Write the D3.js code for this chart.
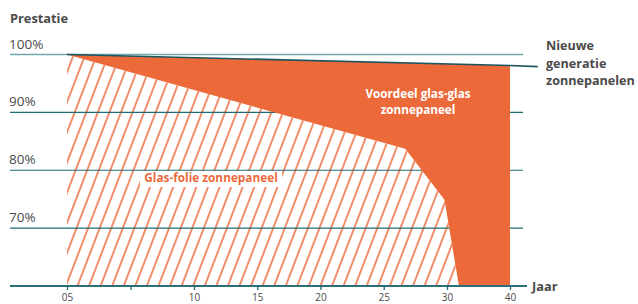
<!DOCTYPE html>
<html>
<head>
<meta charset="utf-8">
<script src="https://cdn.jsdelivr.net/npm/d3@7"></script>
<style>
  body { margin: 0; background: #fff; }
  svg { display: block; font-family: "Open Sans", Lato, sans-serif; }
</style>
</head>
<body>
<div id="chart"></div>
<script>
// data
const tickYears = [5, 7.5, 10, 15, 20, 25, 30, 40];
const tickLabels = ["05", "", "10", "15", "20", "25", "30", "40"];
const gridValues = [70, 80, 90];
const yLabels = ["70%", "80%", "90%", "100%"];
const yLabelValues = [70, 80, 90, 100];

// glas-folie zonnepaneel (prestatie %)
const folieYears = [5, 26.7, 29.8, 31.9];
const folieValues = [100, 83.7, 74.9, 60];

// nieuwe generatie zonnepanelen
const newYears = [5, 40, 44.4];
const newValues = [100, 98.1, 97.9];

const W = 638, H = 304;
const orange = "#ec6a3a", teal = "#1f6c76", text = "#4a4a4a";

const svg = d3.select("#chart").append("svg")
  .attr("width", W).attr("height", H);

// the axis is spaced per tick, not per year
const x = d3.scaleLinear().domain([5, 10, 30, 40]).range([67, 194, 447, 510]);
const y = d3.scaleLinear().domain([60, 100]).range([286, 54.5]);

// hatch pattern
const defs = svg.append("defs");
const pat = defs.append("pattern")
  .attr("id", "hatch")
  .attr("patternUnits", "userSpaceOnUse")
  .attr("width", 10.8).attr("height", 10.8)
  .attr("patternTransform", "rotate(21)");
pat.append("line")
  .attr("x1", 2).attr("y1", 0).attr("x2", 2).attr("y2", 10.8)
  .attr("stroke", orange).attr("stroke-width", 1.5);

const line = d3.line().x(d => x(d[0])).y(d => y(d[1]));

const foliePts = folieYears.map((yr, i) => [yr, folieValues[i]]);
const newPts = newYears.map((yr, i) => [yr, newValues[i]]);

// hatched area under the glas-folie curve
svg.append("path")
  .attr("d", line(foliePts.concat([[folieYears[0], 60]])) + "Z")
  .attr("fill", "url(#hatch)");

// label with white box
const folieLabel = svg.append("g").attr("transform", `translate(211,182)`);
folieLabel.append("rect")
  .attr("x", -71).attr("y", -11).attr("width", 142).attr("height", 16)
  .attr("fill", "#fff");
folieLabel.append("text")
  .attr("text-anchor", "middle")
  .attr("fill", orange)
  .style("font-size", "11.8px").style("font-weight", "bold")
  .text("Glas-folie zonnepaneel");

// grid lines
svg.selectAll(".grid").data(gridValues).join("line")
  .attr("class", "grid")
  .attr("x1", 10).attr("x2", 523)
  .attr("y1", d => y(d)).attr("y2", d => y(d))
  .attr("stroke", teal).attr("stroke-width", 1.2);

svg.append("line")
  .attr("x1", 10).attr("x2", 523)
  .attr("y1", y(100)).attr("y2", y(100))
  .attr("stroke", "#6fa8ae").attr("stroke-width", 1.5);

// voordeel area between new generation and glas-folie
const fillPts = newPts.slice(0, 2)
  .concat([[40, 60]])
  .concat(foliePts.slice().reverse());
svg.append("path")
  .attr("d", line(fillPts) + "Z")
  .attr("fill", orange);

// new generation line
svg.append("path")
  .attr("d", line(newPts))
  .attr("fill", "none")
  .attr("stroke", "#1b5560").attr("stroke-width", 1.6);

// x axis
svg.append("line")
  .attr("x1", 10).attr("x2", 527)
  .attr("y1", y(60)).attr("y2", y(60))
  .attr("stroke", "#2a6f79").attr("stroke-width", 2);

const xAxis = svg.append("g")
  .attr("transform", `translate(0,${y(60)})`)
  .call(d3.axisBottom(x)
    .tickValues(tickYears)
    .tickFormat((d, i) => tickLabels[i])
    .tickSize(4)
    .tickPadding(4));
xAxis.select(".domain").remove();
xAxis.selectAll(".tick line").attr("stroke", teal).attr("stroke-width", 1.3);
xAxis.selectAll(".tick text")
  .attr("fill", text)
  .style("font-size", "10px")
  .style("font-family", "'Open Sans', sans-serif");

// y labels
svg.selectAll(".ylab").data(yLabelValues).join("text")
  .attr("class", "ylab")
  .attr("x", 9).attr("y", d => y(d) - 6)
  .attr("fill", text)
  .style("font-size", "13.5px")
  .text((d, i) => yLabels[i]);

// titles
svg.append("text")
  .attr("x", 10).attr("y", 23)
  .attr("fill", text)
  .style("font-size", "12.8px").style("font-weight", "bold")
  .text("Prestatie");

svg.append("text")
  .attr("x", 532).attr("y", y(60) + 4.5)
  .attr("fill", text)
  .style("font-size", "12.8px").style("font-weight", "bold")
  .text("Jaar");

const nieuwe = svg.append("text")
  .attr("x", 546).attr("y", 50)
  .attr("fill", text)
  .style("font-size", "12.6px").style("font-weight", "bold");
["Nieuwe", "generatie", "zonnepanelen"].forEach((t, i) => {
  nieuwe.append("tspan").attr("x", 546).attr("dy", i ? 17.5 : 0).text(t);
});

const voordeel = svg.append("text")
  .attr("x", 418).attr("y", 97.5)
  .attr("text-anchor", "middle")
  .attr("fill", "#fff")
  .style("font-size", "11.7px").style("font-weight", "bold");
["Voordeel glas-glas", "zonnepaneel"].forEach((t, i) => {
  voordeel.append("tspan").attr("x", 418).attr("dy", i ? 16.2 : 0).text(t);
});
</script>
</body>
</html>
